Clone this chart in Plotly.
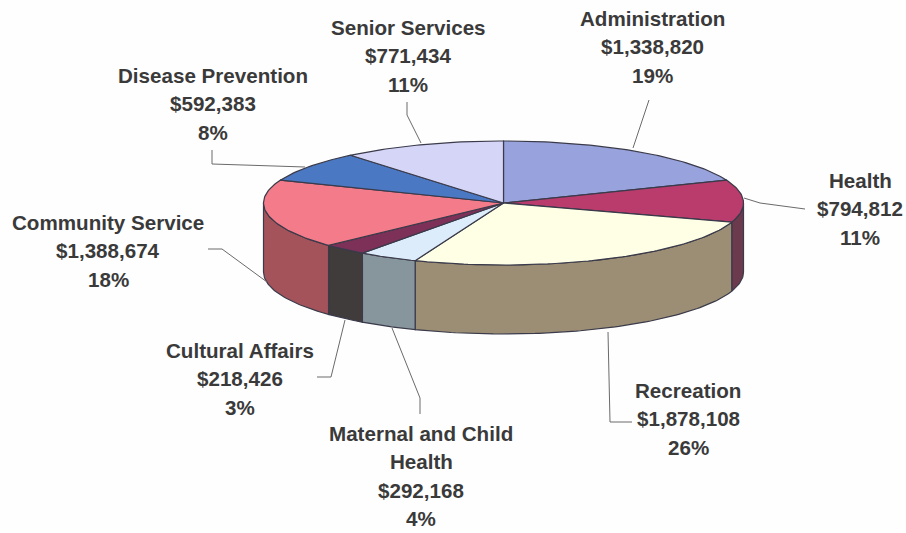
import math
import plotly.graph_objects as go

# ---- data ----
categories = ["Administration", "Health", "Recreation", "Maternal and Child<br>Health",
              "Cultural Affairs", "Community Service", "Disease Prevention", "Senior Services"]
dollars = [1338820, 794812, 1878108, 292168, 218426, 1388674, 592383, 771434]
percents = [19, 11, 26, 4, 3, 18, 8, 11]

# ---- styles ----
top_colors = ["#98a2dc", "#b93c6c", "#ffffe6", "#dcecfa", "#7d3058", "#f47b8a", "#4a78c2", "#d5d5f8"]
side_colors = ["#6d7299", "#6b3a4c", "#9b8e74", "#87969c", "#413c3c", "#a5535b", "#33547f", "#9595ad"]
edge = "#3a3a4a"
text_color = "#3a3a3a"
leader_color = "#6a6a6a"

# ---- pie geometry (pixels) ----
CX, CY, RX, RY, DEPTH = 503.5, 203, 240, 62, 69


def pt(theta_deg, dy=0.0):
    t = math.radians(theta_deg)
    return CX + RX * math.sin(t), CY - RY * math.cos(t) + dy


def arc(a, b, dy=0.0, step=1.0):
    n = max(2, int(abs(b - a) / step) + 1)
    return [pt(a + (b - a) * i / (n - 1), dy) for i in range(n)]


fig = go.Figure()

# slice boundaries from the values
total = sum(percents)
bounds = [0.0]
for p in percents:
    bounds.append(bounds[-1] + 360.0 * p / total)


def poly(points, fill):
    xs = [p[0] for p in points] + [points[0][0]]
    ys = [p[1] for p in points] + [points[0][1]]
    fig.add_trace(go.Scatter(x=xs, y=ys, mode="lines", fill="toself", fillcolor=fill,
                             line=dict(color=edge, width=1.2), hoverinfo="skip", showlegend=False))


# visible rim (front half of the ellipse)
for i, c in enumerate(side_colors):
    a, b = max(bounds[i], 90.0), min(bounds[i + 1], 270.0)
    if b > a:
        poly(arc(a, b) + arc(b, a, DEPTH), c)

# top faces
for i, c in enumerate(top_colors):
    poly([(CX, CY)] + arc(bounds[i], bounds[i + 1]), c)

# ---- leader lines ----
leaders = [
    [(649, 100), (633, 148)],
    [(744, 198), (760, 203), (805, 209)],
    [(608, 332), (610, 422), (632, 422)],
    [(420, 414), (420, 398), (392, 328)],
    [(317, 377), (331, 377), (345, 320)],
    [(208, 249), (222, 249), (267, 282)],
    [(212, 150), (212, 164), (305, 167)],
    [(407, 102), (407, 115), (421, 143)],
]
for seg in leaders:
    fig.add_trace(go.Scatter(x=[p[0] for p in seg], y=[p[1] for p in seg], mode="lines",
                             line=dict(color=leader_color, width=1), hoverinfo="skip", showlegend=False))

# ---- labels: centre x and first-line y ----
label_pos = [(652, 18), (860, 180), (688, 390), (421, 433),
             (240, 350), (108, 222), (213, 75), (408, 27)]
LINE = 28.6
annotations = []
for name, d, p, (lx, ly) in zip(categories, dollars, percents, label_pos):
    lines = name.split("<br>") + [f"${d:,}", f"{p}%"]
    for j, s in enumerate(lines):
        annotations.append(dict(x=lx, y=ly + j * LINE, text=s, showarrow=False,
                                xanchor="center", yanchor="middle", xref="x", yref="y",
                                font=dict(family="Liberation Sans", size=20.6, color=text_color,
                                          weight="bold")))

fig.update_layout(
    width=906, height=533, margin=dict(l=0, r=0, t=0, b=0),
    paper_bgcolor="#fefefe", plot_bgcolor="#fefefe",
    xaxis=dict(range=[0, 906], visible=False, fixedrange=True),
    yaxis=dict(range=[533, 0], visible=False, fixedrange=True),
    annotations=annotations, showlegend=False,
)
fig.write_html("out.html", config={"displayModeBar": False},
               post_script="document.body.style.margin='0';document.body.style.overflow='hidden';")
